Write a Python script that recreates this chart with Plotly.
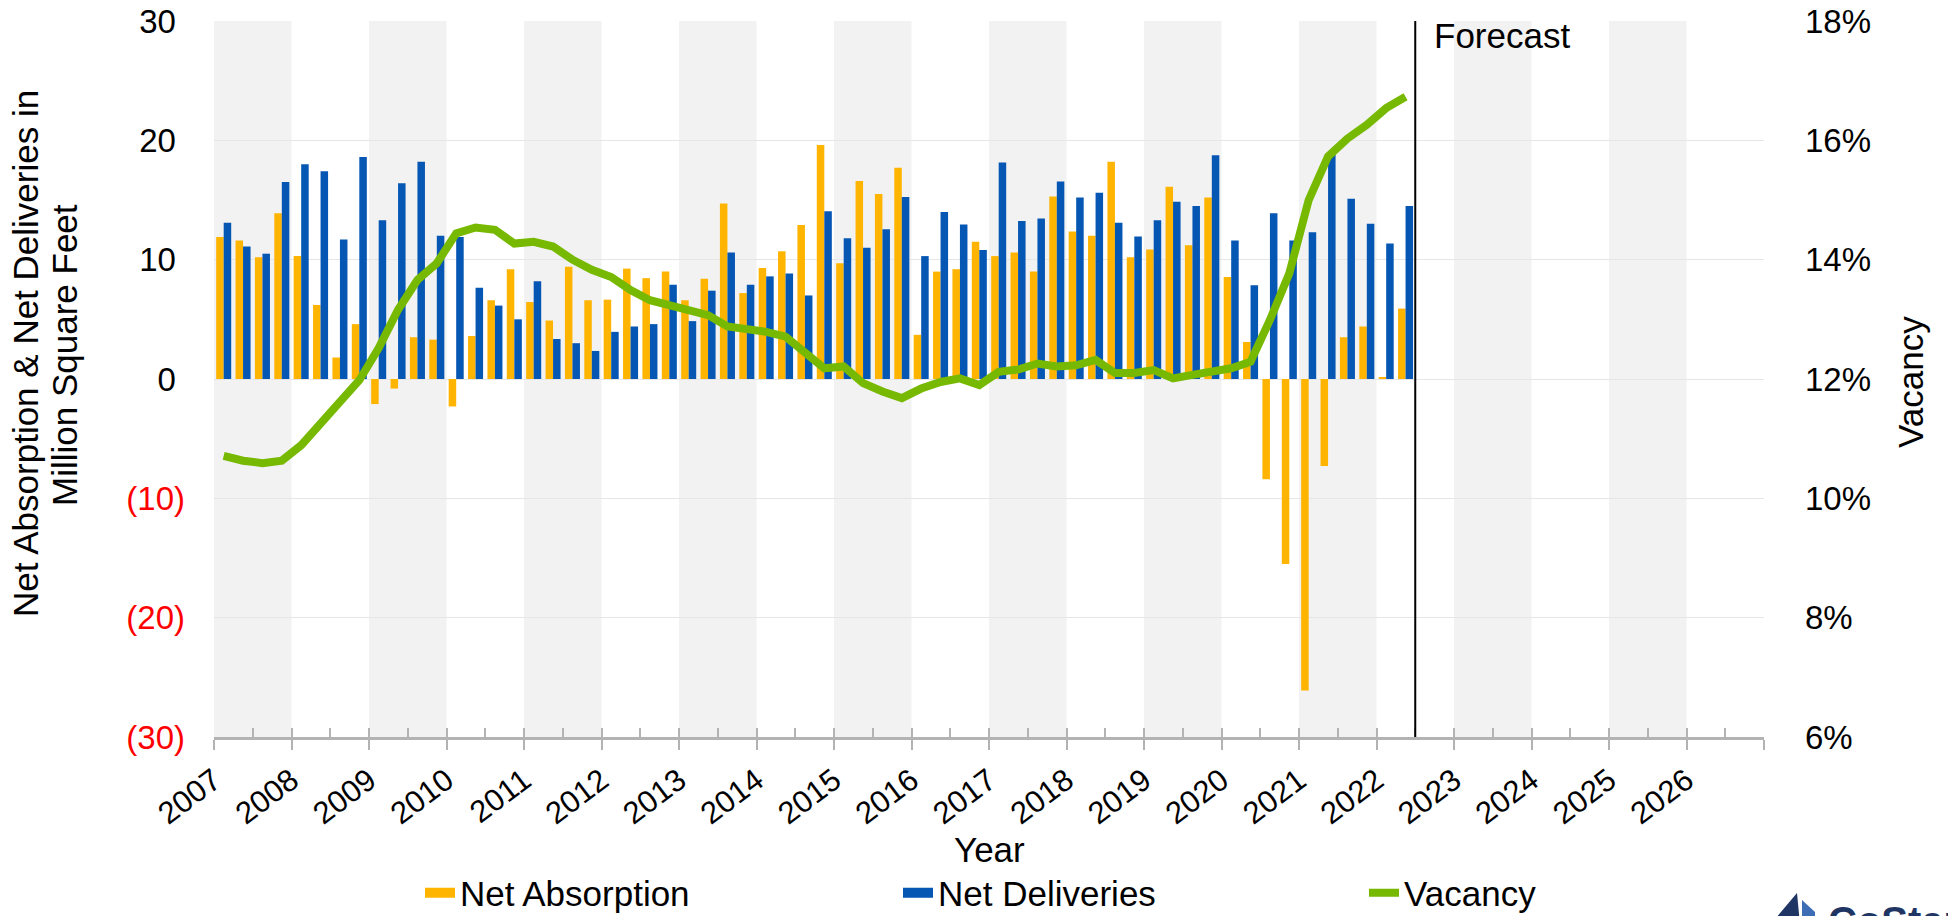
import plotly.graph_objects as go

# ---------------- data ----------------
YEARS = list(range(2007, 2027))
QUARTERS = [f"{y} Q{q}" for y in range(2007, 2023) for q in range(1, 5)][:62]  # 2007 Q1 .. 2022 Q2

net_absorption = [
    11.9, 11.6, 10.2, 13.9,
    10.3, 6.2, 1.8, 4.6,
    -2.1, -0.8, 3.5, 3.3,
    -2.3, 3.6, 6.6, 9.2,
    6.45, 4.9, 9.4, 6.6,
    6.65, 9.25, 8.45, 9.0,
    6.6, 8.4, 14.7, 7.2,
    9.3, 10.7, 12.9, 19.6,
    9.7, 16.6, 15.5, 17.7,
    3.7, 9.0, 9.2, 11.5,
    10.3, 10.6, 9.0, 15.3,
    12.35, 12.0, 18.2, 10.2,
    10.85, 16.1, 11.2, 15.2,
    8.55, 3.1, -8.4, -15.5,
    -26.1, -7.3, 3.5, 4.4,
    0.1, 5.9,
]

net_deliveries = [
    13.1, 11.1, 10.5, 16.5,
    18.0, 17.4, 11.7, 18.6,
    13.3, 16.4, 18.2, 12.0,
    11.9, 7.65, 6.15, 5.0,
    8.2, 3.35, 3.0, 2.35,
    3.95, 4.4, 4.6, 7.9,
    4.85, 7.4, 10.6, 7.9,
    8.6, 8.85, 7.0, 14.05,
    11.8, 11.0, 12.55, 15.25,
    10.3, 14.0, 12.95, 10.8,
    18.15, 13.25, 13.45, 16.55,
    15.2, 15.6, 13.1, 11.95,
    13.3, 14.85, 14.5, 18.75,
    11.6, 7.85, 13.9, 11.6,
    12.3, 18.9, 15.1, 13.0,
    11.35, 14.5,
]

vacancy = [
    10.71, 10.63, 10.59, 10.63,
    10.89, 11.26, 11.59, 11.98,
    12.52, 13.16, 13.66, 13.94,
    14.44, 14.54, 14.50, 14.27,
    14.30, 14.22, 14.00, 13.83,
    13.71, 13.49, 13.32, 13.24,
    13.13, 13.07, 12.88, 12.85,
    12.79, 12.71, 12.46, 12.18,
    12.21, 11.93, 11.79, 11.68,
    11.84, 11.95, 12.01, 11.90,
    12.12, 12.16, 12.26, 12.21,
    12.23, 12.32, 12.10, 12.10,
    12.15, 12.01, 12.07, 12.12,
    12.18, 12.29, 12.99, 13.77,
    15.00, 15.73, 16.03, 16.26,
    16.54, 16.73,
]

left_tick_vals = [30, 20, 10, 0, -10, -20, -30]
left_tick_text = ["30\u00a0", "20\u00a0", "10\u00a0", "0\u00a0",
                  '<span style="color:#FF0000">(10)</span>',
                  '<span style="color:#FF0000">(20)</span>',
                  '<span style="color:#FF0000">(30)</span>']
right_tick_vals = [6, 8, 10, 12, 14, 16, 18]
FORECAST_START = 2022.5
SHADED_YEARS = list(range(2007, 2027, 2))

# ---------------- helpers ----------------
def q_to_num(label):
    y, q = label.split(" Q")
    return int(y) + (int(q) - 1) * 0.25

x_start = [q_to_num(q) for q in QUARTERS]
x_mid = [v + 0.125 for v in x_start]

ORANGE = "#FFB400"
BLUE = "#0656B4"
GREEN = "#76B900"
AXIS_GRAY = "#B3B3B3"
NAVY = "#1F3564"
FONT = "Liberation Sans, Arial, sans-serif"

L, R, T, B = 214, 184, 21, 179
PW, PH = 1948 - L - R, 916 - T - B


def px_x(v):
    return (v - L) / PW


def px_y(v):
    return (916 - B - v) / PH


fig = go.Figure()
fig.add_trace(go.Bar(name="Net Absorption", x=x_start, y=net_absorption, showlegend=False,
                     legendgroup="abs",
                     offset=0.028, width=0.097, marker=dict(color=ORANGE, line=dict(width=0))))
fig.add_trace(go.Bar(name="Net Deliveries", x=x_start, y=net_deliveries, showlegend=False,
                     legendgroup="del",
                     offset=0.125, width=0.097, marker=dict(color=BLUE, line=dict(width=0))))
# legend swatches (legend-only entries, no data drawn)
fig.add_trace(go.Scatter(name="Net Absorption", x=[None], y=[None], mode="lines",
                         legendgroup="abs", legend="legend",
                         line=dict(color=ORANGE, width=20)))
fig.add_trace(go.Scatter(name="Net Deliveries", x=[None], y=[None], mode="lines",
                         legendgroup="del", legend="legend2",
                         line=dict(color=BLUE, width=20)))
fig.add_trace(go.Scatter(name="Vacancy", x=x_mid, y=vacancy, mode="lines", legend="legend3",
                         line=dict(color=GREEN, width=8), xaxis="x2", yaxis="y2"))

shapes = []
for y0 in SHADED_YEARS:
    shapes.append(dict(type="rect", xref="x", yref="paper", x0=y0, x1=y0 + 1, y0=0, y1=1,
                       fillcolor="#F2F2F2", line=dict(width=0), layer="below"))
shapes.append(dict(type="line", xref="x", yref="paper", x0=FORECAST_START, x1=FORECAST_START,
                   y0=0, y1=1, line=dict(color="#000000", width=2)))
# small logo mark (bottom-right corner, cut by the edge as in the source)
shapes.append(dict(type="path", xref="paper", yref="paper",
                   path=(f"M {px_x(1770)},{px_y(925)} L {px_x(1797)},{px_y(893)} "
                         f"L {px_x(1800)},{px_y(925)} Z"),
                   fillcolor=NAVY, line=dict(width=0), layer="above"))
shapes.append(dict(type="path", xref="paper", yref="paper",
                   path=(f"M {px_x(1802)},{px_y(925)} L {px_x(1802)},{px_y(900)} "
                         f"L {px_x(1815)},{px_y(912)} L {px_x(1815)},{px_y(925)} Z"),
                   fillcolor="#3D6DB5", line=dict(width=0), layer="above"))

legend_font = dict(size=35, family=FONT, color="#000000")
legend_common = dict(orientation="h", xanchor="left", y=px_y(893), yanchor="middle",
                     font=legend_font, bgcolor="rgba(0,0,0,0)")

annotations = [
    dict(text="Forecast", xref="x", yref="paper", x=FORECAST_START, y=1, xanchor="left",
         yanchor="top", xshift=17, yshift=7, showarrow=False,
         font=dict(size=35, color="#000000", family=FONT)),
    dict(text="Net Absorption &amp; Net Deliveries in", xref="paper", yref="paper",
         x=px_x(25), y=px_y(354), textangle=-90, showarrow=False,
         xanchor="center", yanchor="middle", font=dict(size=35, color="#000000", family=FONT)),
    dict(text="Million Square Feet", xref="paper", yref="paper",
         x=px_x(64), y=px_y(355), textangle=-90, showarrow=False,
         xanchor="center", yanchor="middle", font=dict(size=35, color="#000000", family=FONT)),
    dict(text="Vacancy", xref="paper", yref="paper", x=px_x(1910), y=px_y(382),
         textangle=-90, showarrow=False, xanchor="center", yanchor="middle",
         font=dict(size=35, color="#000000", family=FONT)),
    dict(text="Year", xref="paper", yref="paper", x=0.5, y=px_y(849),
         showarrow=False, xanchor="center", yanchor="middle",
         font=dict(size=35, color="#000000", family=FONT)),
    dict(text="<b>CoStar</b>", xref="paper", yref="paper", x=px_x(1826),
         y=px_y(921), xanchor="left", yanchor="middle", showarrow=False,
         font=dict(size=40, color=NAVY, family=FONT)),
]

fig.update_layout(
    width=1948, height=916,
    margin=dict(l=L, r=R, t=T, b=B, autoexpand=False),
    paper_bgcolor="white", plot_bgcolor="white",
    barmode="overlay",
    font=dict(family=FONT, color="#000000"),
    shapes=shapes, annotations=annotations,
    showlegend=True,
    legend=dict(x=px_x(420), **legend_common),
    legend2=dict(x=px_x(898), **legend_common),
    legend3=dict(x=px_x(1364), **legend_common),
    xaxis=dict(range=[2007, 2027], tickmode="array", tickvals=YEARS + [2027],
               ticktext=[str(y) for y in YEARS] + [""], tickangle=-37,
               tickfont=dict(size=31, family=FONT, color="#000000"),
               ticks="outside", ticklen=10, tickwidth=2, tickcolor=AXIS_GRAY,
               showline=True, linecolor=AXIS_GRAY, linewidth=3,
               showgrid=False, zeroline=False, automargin=False),
    xaxis2=dict(range=[2007, 2027], overlaying="x", anchor="y2", side="bottom",
                tickmode="linear", tick0=2007, dtick=0.5, ticks="inside", ticklen=9,
                tickwidth=2, tickcolor=AXIS_GRAY, showticklabels=False,
                showgrid=False, zeroline=False, showline=False),
    yaxis=dict(range=[-30, 30], tickmode="array", tickvals=left_tick_vals, ticktext=left_tick_text,
               tickfont=dict(size=33, family=FONT, color="#000000"), ticks="",
               ticklabelstandoff=28, automargin=False,
               showgrid=True, gridcolor="#E6E6E6", gridwidth=1, zeroline=False, showline=False),
    yaxis2=dict(range=[6, 18], overlaying="y", side="right", anchor="x2",
                tickmode="array", tickvals=right_tick_vals,
                ticktext=[f"{v}%" for v in right_tick_vals],
                tickfont=dict(size=33, family=FONT, color="#000000"), ticks="",
                ticklabelstandoff=40, automargin=False,
                showgrid=False, zeroline=False, showline=False),
)

fig.write_html("out.html", config={"displayModeBar": False},
               post_script="document.body.style.margin='0px';document.body.style.overflow='hidden';")
